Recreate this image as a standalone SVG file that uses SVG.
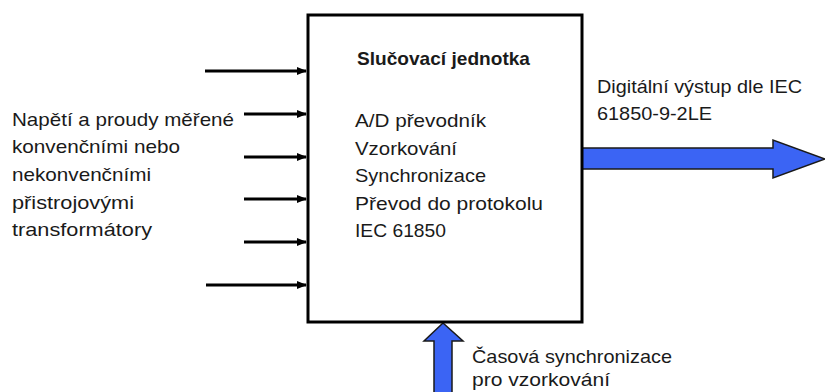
<svg xmlns="http://www.w3.org/2000/svg" width="825" height="392" viewBox="0 0 825 392">
<style>
text{font-family:"Liberation Sans",Arial,sans-serif;font-size:19px;fill:#1a1a1a}
.b{font-weight:bold}
.in{stroke:#000;stroke-width:3;fill:none}
.blue{fill:#3b64f4;stroke:#1a1a1a;stroke-width:1.5;stroke-linejoin:miter}
</style>
<defs>
<marker id="ah" markerWidth="10" markerHeight="8" refX="9" refY="4" orient="auto" markerUnits="userSpaceOnUse">
<path d="M0,0 L10,4 L0,8 Z" fill="#000"/>
</marker>
</defs>
<g id="connectors">
<line class="in" x1="205" y1="71" x2="306" y2="71" marker-end="url(#ah)"/>
<line class="in" x1="244" y1="114" x2="306" y2="114" marker-end="url(#ah)"/>
<line class="in" x1="244" y1="157" x2="306" y2="157" marker-end="url(#ah)"/>
<line class="in" x1="244" y1="199" x2="306" y2="199" marker-end="url(#ah)"/>
<line class="in" x1="244" y1="242" x2="306" y2="242" marker-end="url(#ah)"/>
<line class="in" x1="206" y1="285" x2="306" y2="285" marker-end="url(#ah)"/>
<path class="blue" d="M582,148 L773,148 L773,140 L825,159 L773,178 L773,169 L582,169 Z"/>
<path class="blue" d="M434,393 L434,341 L424,341 L443,323 L463,341 L452,341 L452,393 Z"/>
</g>
<g id="unit">
<rect x="308" y="15" width="274" height="307" fill="#fff" stroke="#000" stroke-width="3"/>
<text class="b" x="357" y="65" textLength="173" lengthAdjust="spacingAndGlyphs">Slučovací jednotka</text>
<text x="355" y="127" textLength="131" lengthAdjust="spacingAndGlyphs">A/D převodník</text>
<text x="355" y="155" textLength="102" lengthAdjust="spacingAndGlyphs">Vzorkování</text>
<text x="355" y="182" textLength="131" lengthAdjust="spacingAndGlyphs">Synchronizace</text>
<text x="355" y="210" textLength="188" lengthAdjust="spacingAndGlyphs">Převod do protokolu</text>
<text x="355" y="237" textLength="91" lengthAdjust="spacingAndGlyphs">IEC 61850</text>
</g>
<g id="inputs-label">
<text x="12" y="126" textLength="222" lengthAdjust="spacingAndGlyphs">Napětí a proudy měřené</text>
<text x="12" y="153" textLength="168" lengthAdjust="spacingAndGlyphs">konvenčními nebo</text>
<text x="12" y="181" textLength="139" lengthAdjust="spacingAndGlyphs">nekonvenčními</text>
<text x="12" y="209" textLength="122" lengthAdjust="spacingAndGlyphs">přistrojovými</text>
<text x="12" y="236" textLength="140" lengthAdjust="spacingAndGlyphs">transformátory</text>
</g>
<g id="output-label">
<text x="597" y="93" textLength="205" lengthAdjust="spacingAndGlyphs">Digitální výstup dle IEC</text>
<text x="597" y="120" textLength="115" lengthAdjust="spacingAndGlyphs">61850-9-2LE</text>
</g>
<g id="sync-label">
<text x="472" y="363" textLength="200" lengthAdjust="spacingAndGlyphs">Časová synchronizace</text>
<text x="472" y="386" textLength="138" lengthAdjust="spacingAndGlyphs">pro vzorkování</text>
</g>
</svg>
